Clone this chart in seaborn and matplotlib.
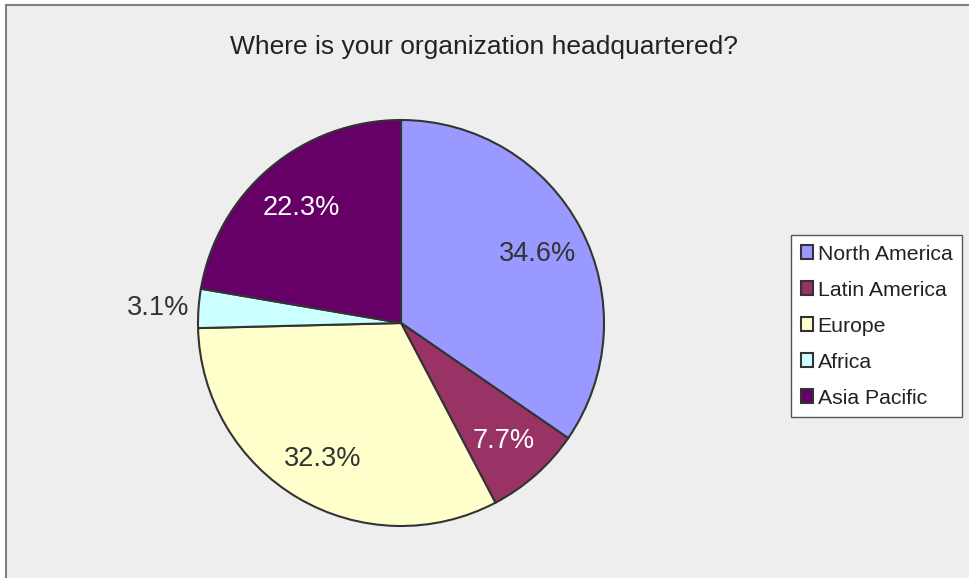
import matplotlib
matplotlib.use("Agg")
import matplotlib.pyplot as plt
import seaborn as sns
import numpy as np

# Survey answers
regions = ["North America", "Latin America", "Europe", "Africa", "Asia Pacific"]
shares = [34.6, 7.7, 32.3, 3.1, 22.3]
colors = ["#9999FF", "#993366", "#FFFFCC", "#CCFFFF", "#660066"]
label_colors = ["#333333", "white", "#333333", "#333333", "white"]

sns.set_style("white")
plt.rcParams["font.family"] = ["Liberation Sans", "DejaVu Sans"]

fig = plt.figure(figsize=(9.69, 5.78), dpi=100)
fig.patch.set_facecolor("white")

# grey chart area with a thin frame on the top/left
bg = plt.Rectangle((6 / 969, -0.01), 1.0, 1 - 5 / 578 + 0.01, transform=fig.transFigure,
                   facecolor="#EEEEEE", edgecolor="#808080", linewidth=1.5, zorder=-10)
fig.patches.append(bg)

# pie axes: centre (401, 323) px, radius 203 px
r_px = 203
pad = 1.06
w = 2 * r_px * pad
ax = fig.add_axes([(401 - r_px * pad) / 969, (578 - 323 - r_px * pad) / 578,
                   w / 969, w / 578])
ax.set_facecolor("none")
ax.set_zorder(5)

wedges, texts, autotexts = ax.pie(
    shares,
    colors=sns.color_palette(colors),
    startangle=90,
    counterclock=False,
    autopct="%.1f%%",
    pctdistance=0.76,
    radius=1,
    wedgeprops=dict(edgecolor="#333333", linewidth=1.5),
    textprops=dict(fontsize=19.5),
)
ax.set_xlim(-pad, pad)
ax.set_ylim(-pad, pad)
ax.set_aspect("equal")
ax.axis("off")

for t, c in zip(autotexts, label_colors):
    t.set_color(c)
    t.set_va("center_baseline")

# small Africa slice gets its label outside
w_af = wedges[3]
mid = np.deg2rad((w_af.theta1 + w_af.theta2) / 2)
autotexts[3].set_position((1.2 * np.cos(mid), 1.2 * np.sin(mid)))
autotexts[3].set_ha("center")

fig.text(484 / 969, 1 - 47 / 578, "Where is your organization headquartered?",
         ha="center", va="center", fontsize=19, color="#222222")

leg = fig.legend(wedges, regions, loc="upper left",
                 bbox_to_anchor=(791 / 969, 1 - 235 / 578),
                 fontsize=15.3, frameon=True, fancybox=False,
                 handlelength=0.6, handleheight=0.6, handletextpad=0.2,
                 labelspacing=0.8, borderpad=0.45, borderaxespad=0)
leg.get_frame().set_edgecolor("#555555")
leg.get_frame().set_facecolor("white")
leg.get_frame().set_linewidth(1.0)
leg.get_frame().set_alpha(1)
for txt in leg.get_texts():
    txt.set_color("#222222")

fig.savefig("out.png", dpi=100, facecolor=fig.get_facecolor())
